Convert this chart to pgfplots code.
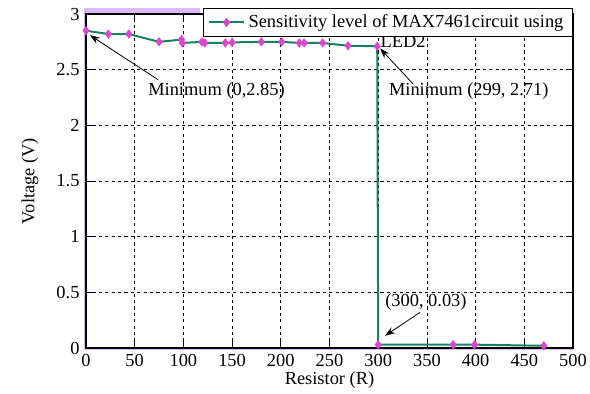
\documentclass[border=0pt]{standalone}
\usepackage{fontspec}
\setmainfont{Liberation Serif}
\newfontfamily\tnr{Liberation Serif}
\usepackage{pgfplots}
\pgfplotsset{compat=1.18}
\usetikzlibrary{arrows.meta}
\definecolor{linegreen}{RGB}{20,130,98}
\definecolor{markpink}{RGB}{218,70,205}
\definecolor{lilac}{RGB}{220,185,250}
\begin{document}
\tnr\fontsize{9.2pt}{11pt}\selectfont
\begin{tikzpicture}[every node/.style={font=\tnr\fontsize{9.2pt}{11pt}\selectfont}]
\useasboundingbox (-43pt,-22.5pt) rectangle (252pt,174pt);
\fill[lilac] (-1.2pt,167pt) rectangle (57pt,170pt);
\fill[lilac] (-1.2pt,-1.2pt) rectangle (0pt,170pt);
\fill[lilac] (-1.2pt,-1.2pt) rectangle (243.5pt,0pt);
\begin{axis}[
  at={(0,0)}, anchor=south west,
  scale only axis, width=243.5pt, height=167pt,
  xmin=0, xmax=500, ymin=0, ymax=3,
  xtick={0,50,...,500}, ytick={0,0.5,...,3},
  /pgf/number format/assume math mode=true,
  tick label style={font=\tnr\fontsize{9.2pt}{11pt}\selectfont},
  label style={font=\tnr\fontsize{9.2pt}{11pt}\selectfont},
  grid=major,
  major grid style={black, line width=0.4pt, dash pattern=on 1.6pt off 1.6pt},
  tick align=inside, major tick length=3pt,
  tick style={black, line width=0.4pt},
  axis line style={black, line width=0.6pt},
  every axis y label/.style={at={(axis description cs:-0.115,0.5)}, rotate=90, anchor=center},
  every axis x label/.style={at={(axis description cs:0.5,-0.096)}, anchor=center},
  xlabel={Resistor (R)}, ylabel={Voltage (V)},
  legend style={at={(axis description cs:1,1)}, anchor=north east, yshift=3pt,
    draw=black, line width=0.6pt, fill=white, inner ysep=1pt, inner xsep=2.5pt,
    font=\tnr\fontsize{9.3pt}{11pt}\selectfont},
  legend cell align=left,
]
\addplot[color=linegreen, line width=1pt, mark=diamond*, mark size=2.1pt,
  mark options={fill=markpink, draw=markpink, line width=0.3pt}]
  coordinates {
  (0,2.85) (23,2.82) (44,2.82) (75,2.75) (98,2.77) (99,2.74)
  (119,2.75) (122,2.74) (143,2.74) (150,2.745) (180,2.75) (201,2.75)
  (219,2.74) (224,2.74) (243,2.74) (269,2.715) (299,2.71)
  (300,0.03) (377,0.03) (399,0.03) (470,0.02)
  };
\addlegendentry{Sensitivity level of MAX7461circuit using}
\node[anchor=west, inner sep=0pt] at (axis cs:302,2.75) {LED2};
\node[anchor=center, inner sep=0pt] at (axis cs:134,2.31) {Minimum (0,2.85)};
\draw[-{Stealth[length=5pt,width=3.5pt]}, line width=0.4pt] (axis cs:74,2.41) -- (axis cs:4,2.81);
\node[anchor=center, inner sep=0pt] at (axis cs:393,2.31) {Minimum (299, 2.71)};
\draw[-{Stealth[length=5pt,width=3.5pt]}, line width=0.4pt] (axis cs:336,2.37) -- (axis cs:302,2.69);
\node[anchor=center, inner sep=0pt] at (axis cs:349,0.41) {(300, 0.03)};
\draw[-{Stealth[length=5pt,width=3.5pt]}, line width=0.4pt] (axis cs:343,0.32) -- (axis cs:307,0.11);
\end{axis}
\end{tikzpicture}
\end{document}
